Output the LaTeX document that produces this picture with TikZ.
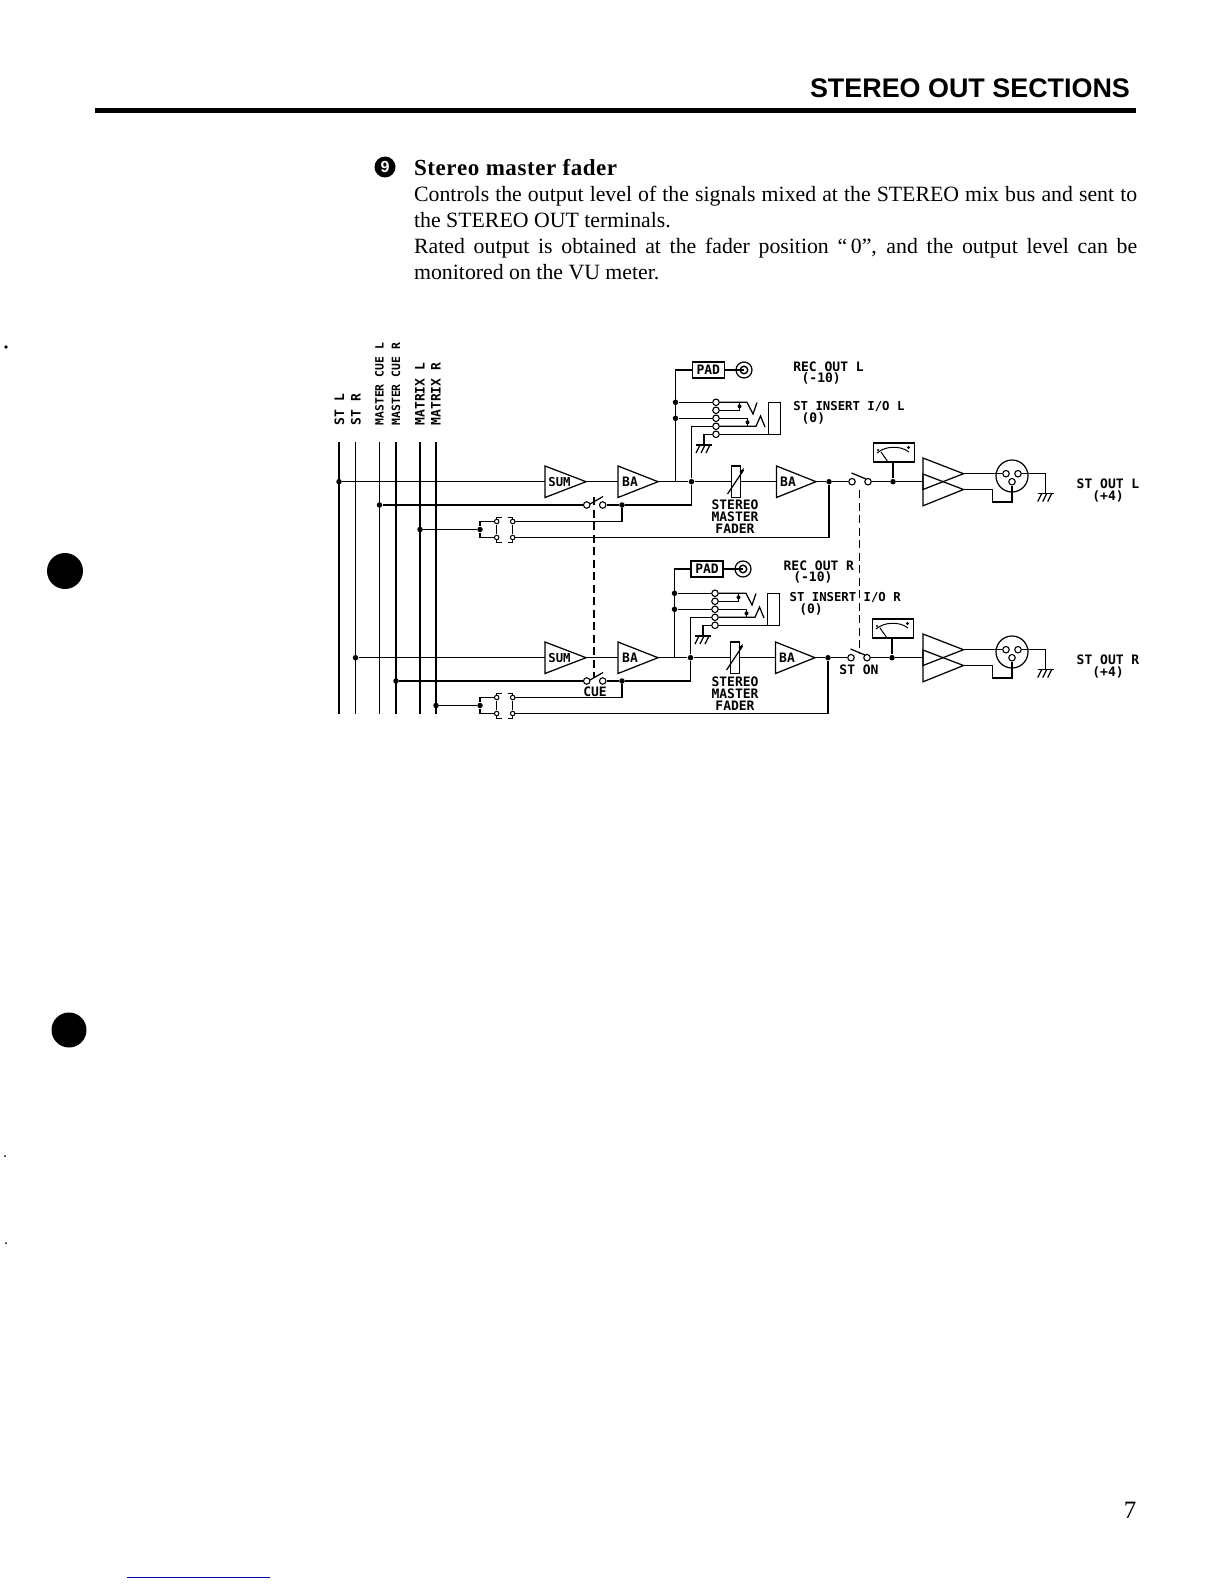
\documentclass[tikz,border=0pt]{standalone}
\usepackage{fontspec}
\setmainfont{Liberation Serif}
\newfontfamily\headfont{Liberation Sans}
\newfontfamily\labfont{DejaVu Sans Mono}
\newcommand{\lsz}[1]{\fontsize{#1}{#1}\selectfont}
\tikzset{
 wire/.style={line width=1.25pt,line join=miter},
 dot/.style={circle,fill=black,draw=none,minimum size=5.5pt,inner sep=0pt},
 pin/.style={circle,draw,line width=1.1pt,fill=white,minimum size=6.5pt,inner sep=0pt},
 tinypin/.style={circle,draw,line width=1pt,fill=white,minimum size=4.5pt,inner sep=0pt},
 lab/.style={inner sep=0pt,font=\labfont\bfseries\lsz{13}},
 labsmall/.style={lab,font=\labfont\bfseries\lsz{12.3}},
 buslab/.style={lab,rotate=90,anchor=west},
 body/.style={inner sep=0pt,anchor=base west,font=\lsz{21.8}},
 gnd/.pic={\draw[wire] (-8,0)--(8,0);
   \foreach \a in {-4,1,6} \draw[wire] (\a,0)--(\a-4,8);},
 ctl/.style={wire,dash pattern=on 8pt off 4.5pt},
}
\begin{document}
\begin{tikzpicture}[x=1pt,y=-1pt,wire]
\fill[white] (0,0) rectangle (1224,1584);
\useasboundingbox (0,0) rectangle (1224,1584);

% page furniture
\node[inner sep=0pt,anchor=base east,font=\headfont\bfseries\lsz{26.9}] (title) at (1130.5,98) {STEREO OUT SECTIONS};
\fill (95,108.5) rectangle (1136,112.8);
\node[circle,fill=black,text=white,minimum size=21pt,inner sep=0pt,font=\headfont\bfseries\lsz{16}] (nine) at (385,167) {9};
\node[body,font=\bfseries\lsz{23}] (head) at (413.5,175) {\hbox to 203pt{S\hfil t\hfil e\hfil r\hfil e\hfil o\hfil\ m\hfil a\hfil s\hfil t\hfil e\hfil r\hfil\ f\hfil a\hfil d\hfil e\hfil r}};
\node[body] (l1) at (413.5,201) {\hbox to 723pt{Controls the output level of the signals mixed at the STEREO mix bus and sent to}};
\node[body] (l2) at (413.5,227) {the STEREO OUT terminals.};
\node[body] (l3) at (413.5,253) {\hbox to 723pt{Rated output is obtained at the fader position ``\,0'', and the output level can be}};
\node[body] (l4) at (413.5,279) {monitored on the VU meter.};
\node[inner sep=0pt,anchor=center,font=\lsz{25}] (pageno) at (1130,1510) {7};
\fill (65,571) circle (18);
\fill (69,1030) circle (17.5);
\fill (6,347) circle (1.8);
\fill (5,1156) circle (1);
\fill (6,1243) circle (1);
\draw[line width=1pt,blue!70!black] (127,1577)--(270,1577);

% buses
\foreach \n/\x in {stl/339,str/355.5,cuel/379.5,cuer/396,mxl/420,mxr/436}{
  \coordinate (\n-top) at (\x,442);
  \coordinate (\n-bot) at (\x,714);
  \draw[wire] (\n-top)--(\n-bot);
}
\node[buslab] (tstl) at (339.5,426) {ST L};
\node[buslab] (tstr) at (356,426) {ST R};
\node[buslab,font=\labfont\bfseries\lsz{11.4}] (tcuel) at (379.5,426) {MASTER CUE L};
\node[buslab,font=\labfont\bfseries\lsz{11.4}] (tcuer) at (396,426) {MASTER CUE R};
\node[buslab] (tmxl) at (420,426) {MATRIX L};
\node[buslab] (tmxr) at (436,426) {MATRIX R};

% the two channels
\foreach \ch/\bus/\cue/\mx/\dy/\di/\dp/\dx in {U/339/379.5/420/0/0/0/0, L/355.5/396/436/176/191/199/-1}{
 \begin{scope}[shift={(0,\dy)}]
  \coordinate (\ch sumA) at (545,466); \coordinate (\ch sumB) at (545,497.5); \coordinate (\ch sumT) at (586,481.7);
  \coordinate (\ch baA) at (618,466); \coordinate (\ch baB) at (618,497.5); \coordinate (\ch baT) at (658,481.7);
  \node[dot] (\ch in) at (\bus,481.7) {};
  \draw[wire] (\ch sumA)--(\ch sumB)--(\ch sumT)--cycle;
  \draw[wire] (\ch baA)--(\ch baB)--(\ch baT)--cycle;
  \draw[wire] (\ch in)--(545,481.7);
  \draw[wire] (\ch sumT)--(618,481.7);
  \node[lab,font=\labfont\bfseries\lsz{12.3}] (\ch sumt) at (559.5,481.7) {SUM};
  \node[lab] (\ch bat) at (630,481.7) {BA};
  % cue
  \node[dot] (\ch cueb) at (\cue,505) {};
  \node[pin] (\ch sw1) at (586.7,505) {};
  \node[pin] (\ch sw2) at (602.7,505) {};
  \node[dot] (\ch cj) at (622,505) {};
  \draw[wire] (\ch cueb)--(\ch sw1);
  \draw[wire] (590,504)--(603,496.5);
  \draw[wire] (\ch sw2)--(\ch cj);
  % matrix
  \node[dot] (\ch mxb) at (\mx,529.5) {};
  \node[dot] (\ch mj) at (480,529.5) {};
  \draw[wire] (\ch mxb)--(\ch mj);
  \node[tinypin] (\ch a1) at (496.7,521.5) {};
  \node[tinypin] (\ch a2) at (512.7,521.5) {};
  \node[tinypin] (\ch b1) at (496.7,537.5) {};
  \node[tinypin] (\ch b2) at (512.7,537.5) {};
  \draw[wire] (\ch a1)-|(\ch mj);
  \draw[wire] (\ch b1)-|(\ch mj);
  \draw[wire] (\ch a2)-|(\ch cj);
  \draw[wire,line width=1pt] (502,517)-|(496.7,519.3);
  \draw[wire,line width=1pt] (496.7,525)--(496.7,534);
  \draw[wire,line width=1pt] (502,542)-|(496.7,539.7);
  \draw[wire,line width=1pt] (507.5,517)-|(512.7,519.3);
  \draw[wire,line width=1pt] (512.7,525)--(512.7,534);
  \draw[wire,line width=1pt] (507.5,542)-|(512.7,539.7);
  % output stage
  \begin{scope}[shift={(\dx,0)}]
  \node[dot] (\ch fj) at (691.5,481.7) {};
  \draw[wire] (\ch cj)--(691.5,505)--(\ch fj);
  \coordinate (\ch fa) at (731.5,481.7);
  \coordinate (\ch fb) at (740.5,481.7);
  \draw[wire] (\ch baT)--(\ch fj);
  \draw[wire] (\ch fj)--(\ch fa);
  \draw[wire] (731.5,466) rectangle (740.5,497.5);
  \draw[wire] (727.5,494)--(743.5,470);
  \fill (744,468)--(742,473.5)--(739.5,471.5)--cycle;
  \coordinate (\ch oA) at (776.5,466); \coordinate (\ch oB) at (776.5,497.5); \coordinate (\ch oT) at (816,481.7);
  \draw[wire] (\ch oA)--(\ch oB)--(\ch oT)--cycle;
  \draw[wire] (\ch fb)--(776.5,481.7);
  \node[lab] (\ch obat) at (788,481.7) {BA};
  \node[dot] (\ch oj) at (829,481.7) {};
  \node[pin] (\ch s1) at (852,481.7) {};
  \node[pin] (\ch s2) at (868,481.7) {};
  \draw[wire] (\ch oT)--(\ch oj);
  \draw[wire] (\ch oj)--(\ch s1);
  \draw[wire] (851.5,473)--(866,479);
  \node[dot] (\ch mj2) at (893,481.7) {};
  \draw[wire] (\ch s2)--(\ch mj2);
  \draw[wire] (\ch b2)-|(\ch oj);
  \draw[wire] (873.5,443) rectangle (914.5,462);
  \coordinate (\ch mbot) at (893,462);
  \draw[wire] (\ch mbot)--(\ch mj2);
  \draw[wire,line width=1pt] (877,453) .. controls (885,446) and (900,445) .. (909,452);
  \draw[wire,line width=1pt] (881,452)--(888,462);
  \fill (908.5,447.5) circle (1.6);
  \fill (878,450) circle (1.1);
  \end{scope}
 \end{scope}
 % XLR output
 \begin{scope}[shift={(0,\dy)}]
  \coordinate (\ch tA) at (923,458); \coordinate (\ch tB) at (923,489.5); \coordinate (\ch tT) at (963.5,473.7);
  \coordinate (\ch uA) at (923,474); \coordinate (\ch uB) at (923,505.8); \coordinate (\ch uT) at (963.5,489.5);
  \draw[wire] (\ch tA)--(\ch tB)--(\ch tT)--cycle;
  \draw[wire] (\ch uA)--(\ch uB)--(\ch uT)--cycle;
  \draw[wire] (\ch mj2)--(923,481.7);
  \node[circle,draw,line width=1.2pt,minimum size=32pt,inner sep=0pt] (\ch xlr) at (1012,476) {};
  \node[pin] (\ch p1) at (1006,473.7) {};
  \node[pin] (\ch p2) at (1018,473.7) {};
  \node[pin] (\ch p3) at (1012,481.7) {};
  \draw[wire] (\ch tT)--(\ch p1);
  \coordinate (\ch gp) at (1045.7,493.5);
  \draw[wire] (\ch p2)-|(\ch gp);
  \pic at (\ch gp) {gnd};
  \draw[wire] (\ch uT)--(992.5,489.5)--(992.5,502)-|(\ch p3);
 \end{scope}
 % insert block
 \begin{scope}[shift={(\dx,\di)}]
  \node[dot] (\ch ja) at (675.5,402.3) {};
  \node[dot] (\ch jb) at (675.5,418.3) {};
  \node[pin] (\ch i1) at (716,402.3) {};
  \node[pin] (\ch i2) at (716,410.3) {};
  \node[pin] (\ch i3) at (716,418.3) {};
  \node[pin] (\ch i4) at (716,426.3) {};
  \node[pin] (\ch i5) at (716,434.3) {};
  \draw[wire] (\ch ja)--(\ch i1);
  \draw[wire] (\ch jb)--(\ch i3);
  \draw[wire] (\ch i1)--(747,402.3)--(753,414)--(757,402.5);
  \draw[wire] (\ch i2)--(739.5,410.3)--(739.5,402.3);
  \fill (739.5,406.3) circle (2);
  \draw[wire] (\ch i3)--(747.5,418.3)--(747.5,426.3);
  \fill (747.5,422.3) circle (2);
  \draw[wire] (\ch i4)--(756,426.3)--(760.5,416)--(765,427);
  \draw[wire] (\ch i5)--(768,434.3);
  \draw[wire] (768.3,402.3) rectangle (780.3,434.3);
  \draw[wire] (\ch i4)--(691.5,426.3);
  \coordinate (\ch ig) at (704,445);
  \draw[wire] (\ch i5)-|(\ch ig);
  \pic at (\ch ig) {gnd};
 \end{scope}
}
% channel-specific joins
\draw[wire] (Ui4)--(691.5,426.3)--(Ufj);
\draw[wire] (Li4)--(690.5,617.3)--(Lfj);
% pad U
\node[draw,wire,minimum width=32pt,minimum height=16pt,inner sep=0pt,lab] (Upad) at (708.3,370) {PAD};
\node[circle,draw,line width=1.2pt,minimum size=16pt,inner sep=0pt] (Ujack) at (744,370) {};
\node[circle,draw,line width=1.4pt,minimum size=7.5pt,inner sep=0pt] (Ujackc) at (744,370) {};
\draw[wire] (Upad)--(Ujackc.center);
\draw[wire] (UbaT)--(675.5,481.7)--(675.5,370)--(Upad);
% pad L
\node[draw,wire,minimum width=32pt,minimum height=16pt,inner sep=0pt,lab] (Lpad) at (707,569) {PAD};
\node[circle,draw,line width=1.2pt,minimum size=16pt,inner sep=0pt] (Ljack) at (743,569) {};
\node[circle,draw,line width=1.4pt,minimum size=7.5pt,inner sep=0pt] (Ljackc) at (743,569) {};
\draw[wire] (Lpad)--(Ljackc.center);
\draw[wire] (LbaT)--(674.5,657.7)--(674.5,569)--(Lpad);

% ganged switch controls
\coordinate (cueA) at (594,497);
\coordinate (cueB) at (594,678);
\draw[ctl] (cueA)--(cueB);
\coordinate (stA) at (859.7,490);
\coordinate (stB) at (859.7,653);
\draw[ctl] (stA)--(stB);

% labels
\node[lab,anchor=west] (trl) at (792.7,366.7) {REC OUT L};
\node[lab,anchor=west] (trl2) at (801,378.3) {(-10)};
\node[labsmall,anchor=west] (til) at (792.7,406.7) {ST INSERT I/O L};
\node[lab,anchor=west] (til2) at (801,418.7) {(0)};
\node[lab] (f1) at (735,505) {STEREO};
\node[lab] (f2) at (735,517) {MASTER};
\node[lab] (f3) at (735,529) {FADER};
\node[lab,anchor=west] (trr) at (783,565.7) {REC OUT R};
\node[lab,anchor=west] (trr2) at (792.7,577.3) {(-10)};
\node[labsmall,anchor=west] (tir) at (789,597.3) {ST INSERT I/O R};
\node[lab,anchor=west] (tir2) at (798.7,609) {(0)};
\node[lab] (g1) at (735,681.7) {STEREO};
\node[lab] (g2) at (735,693.7) {MASTER};
\node[lab] (g3) at (735,705.7) {FADER};
\node[lab] (ston) at (859,670) {ST ON};
\node[lab] (cuet) at (595,692) {CUE};
\node[lab] (ol) at (1108,484) {ST OUT L};
\node[lab] (ol2) at (1108,496) {(+4)};
\node[lab] (or) at (1108,660) {ST OUT R};
\node[lab] (or2) at (1108,672.7) {(+4)};
\end{tikzpicture}
\end{document}
